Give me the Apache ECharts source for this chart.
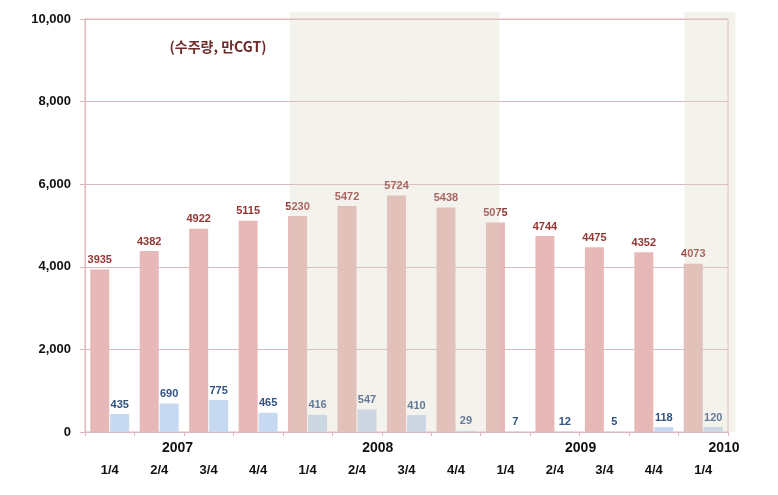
<!DOCTYPE html>
<html>
<head>
<meta charset="utf-8">
<script src="https://cdn.jsdelivr.net/npm/echarts@6/dist/echarts.min.js"></script>
<style>
html,body{margin:0;padding:0;background:#fff;}
#c{width:778px;height:495px;}
</style>
</head>
<body>
<div id="c"></div>
<script>
const categories = ['1/4','2/4','3/4','4/4','1/4','2/4','3/4','4/4','1/4','2/4','3/4','4/4','1/4'];
const ordersTotal = [3935,4382,4922,5115,5230,5472,5724,5438,5075,4744,4475,4352,4073];
const ordersKorea = [435,690,775,465,416,547,410,29,7,12,5,118,120];
const yTicks = [0,2000,4000,6000,8000,10000];
const years = ['2007','2008','2009','2010'];
const unitText = '(수주량, 만CGT)';

// layout (category units)
const yearPos = [1.87, 5.92, 10.02, 12.92];
const shadeRanges = [[4.14, 8.38], [12.12, 13.15]];

const pink = '#DDB8BA';
const chart = echarts.init(document.getElementById('c'), null, {renderer: 'canvas'});
const numFont = '"Liberation Sans", Arial, sans-serif';

chart.setOption({
  animation: false,
  backgroundColor: '#ffffff',
  grid: {left: 85, right: 50, top: 19, bottom: 63, show: true, borderColor: pink, borderWidth: 1, backgroundColor: 'transparent'},
  xAxis: {
    type: 'category',
    data: categories,
    axisLine: {lineStyle: {color: pink}},
    axisTick: {show: true, length: 4, lineStyle: {color: pink}},
    axisLabel: {margin: 32, interval: 0, color: '#111', fontWeight: 'bold', fontSize: 13, fontFamily: numFont}
  },
  yAxis: {
    type: 'value',
    min: yTicks[0],
    max: yTicks[yTicks.length - 1],
    interval: yTicks[1] - yTicks[0],
    axisLine: {show: true, lineStyle: {color: pink}},
    axisTick: {show: true, length: 5, lineStyle: {color: pink}},
    splitLine: {lineStyle: {color: pink}},
    axisLabel: {
      margin: 14, color: '#111', fontWeight: 'bold', fontSize: 13, fontFamily: numFont,
      formatter: v => v.toLocaleString('en-US')
    }
  },
  series: [
    {
      type: 'bar', data: ordersTotal, barWidth: 19, barGap: '5%',
      itemStyle: {color: '#E6B9B8'},
      label: {show: true, position: 'top', distance: 4, color: '#943634', fontWeight: 'bold', fontSize: 11, fontFamily: numFont}
    },
    {
      type: 'bar', data: ordersKorea, barWidth: 19,
      itemStyle: {color: '#C6D9F0'},
      label: {show: true, position: 'top', distance: 4, color: '#2F5283', fontWeight: 'bold', fontSize: 11, fontFamily: numFont}
    }
  ]
});

const c0 = chart.convertToPixel({xAxisIndex: 0}, 0);
const c1 = chart.convertToPixel({xAxisIndex: 0}, 1);
const bw = c1 - c0;
const ux = u => c0 - bw / 2 + u * bw;
const yTop = chart.convertToPixel({yAxisIndex: 0}, yTicks[yTicks.length - 1]);
const yBot = chart.convertToPixel({yAxisIndex: 0}, 0);

const graphics = [];
shadeRanges.forEach(r => {
  graphics.push({
    type: 'rect', z: 100,
    shape: {x: ux(r[0]), y: yTop - 7, width: ux(r[1]) - ux(r[0]), height: yBot - yTop + 7},
    style: {fill: 'rgba(217,211,195,0.30)'}
  });
});
years.forEach((y, i) => {
  graphics.push({
    type: 'text', z: 110,
    x: ux(yearPos[i]), y: yBot + 16,
    style: {text: y, fill: '#111', font: 'bold 14px ' + numFont, textAlign: 'center', textVerticalAlign: 'middle'}
  });
});
graphics.push({
  type: 'text', z: 110,
  x: 218, y: 47,
  style: {text: unitText, fill: '#6E2B2A', font: 'bold 14px "Noto Sans CJK KR", sans-serif', textAlign: 'center', textVerticalAlign: 'middle'}
});
chart.setOption({graphic: graphics});
</script>
</body>
</html>
